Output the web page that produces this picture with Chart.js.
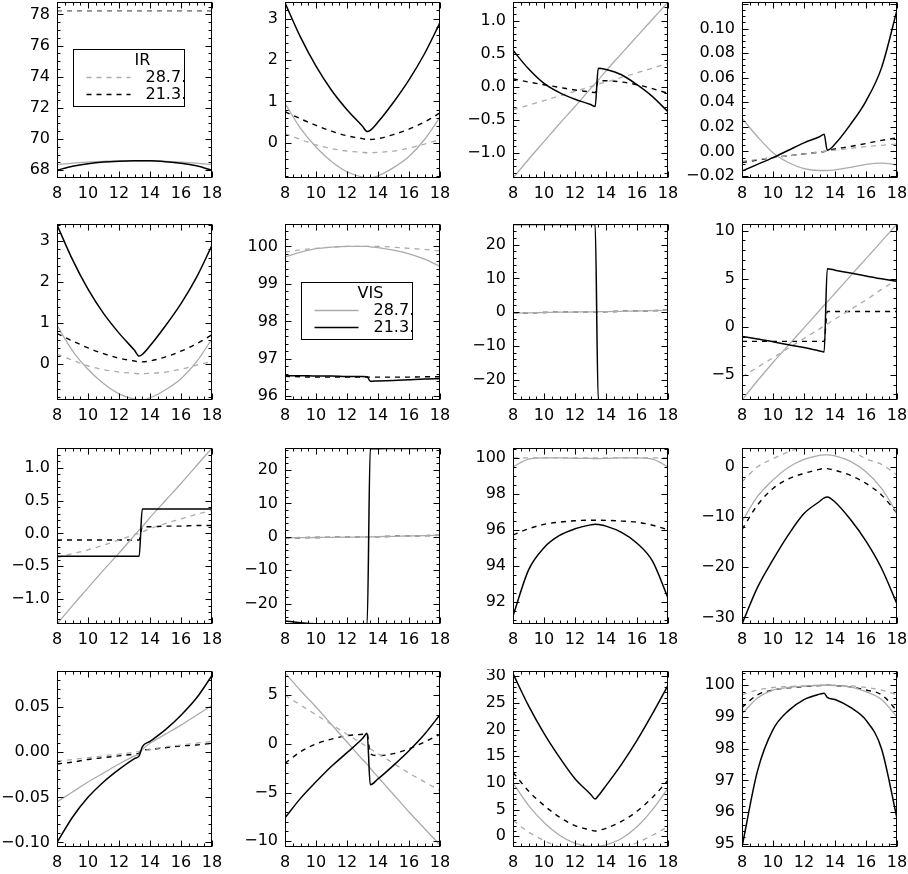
<!DOCTYPE html>
<html>
<head>
<meta charset="utf-8">
<script src="https://cdn.jsdelivr.net/npm/chart.js@4/dist/chart.umd.min.js"></script>
<style>
  body { margin: 0; background: #fff; width: 908px; height: 874px; overflow: hidden; position: relative; }
  canvas { position: absolute; }
</style>
</head>
<body>
<script>
// hour of day, shared by every panel
const hours = [8, 9, 10, 11, 12, 13, 13.3, 13.5, 14, 15, 16, 17, 18];
const xTicks = [8, 10, 12, 14, 16, 18];

// vis = solid, ir = dashed, 287 = 28.7. (gray), 213 = 21.3. (black)
// row 1
const p1Vis287 = [68.35, 68.45, 68.52, 68.57, 68.6, 68.6, 68.6, 68.6, 68.6, 68.57, 68.52, 68.45, 68.35];
const p1Vis213 = [68.0, 68.25, 68.42, 68.53, 68.58, 68.6, 68.6, 68.6, 68.6, 68.55, 68.45, 68.28, 68.0];
const p1Ir287 = [78.2, 78.2, 78.2, 78.2, 78.2, 78.2, 78.2, 78.2, 78.2, 78.2, 78.2, 78.2, 78.2];
const p1Ir213 = [78.21, 78.21, 78.21, 78.21, 78.21, 78.21, 78.21, 78.21, 78.21, 78.21, 78.21, 78.21, 78.21];
const p1Ticks = [68, 70, 72, 74, 76, 78];

const p2Vis287 = [0.95, 0.35, -0.1, -0.45, -0.7, -0.83, -0.85, -0.85, -0.8, -0.6, -0.33, 0.08, 0.62];
const p2Vis213 = [3.38, 2.55, 1.85, 1.27, 0.8, 0.4, 0.27, 0.3, 0.5, 0.98, 1.52, 2.15, 2.9];
const p2Ir287 = [0.22, 0.08, -0.05, -0.14, -0.2, -0.23, -0.24, -0.24, -0.23, -0.2, -0.13, -0.03, 0.08];
const p2Ir213 = [0.75, 0.58, 0.42, 0.28, 0.17, 0.1, 0.08, 0.08, 0.1, 0.2, 0.33, 0.5, 0.72];
const p2Ticks = [0, 1, 2, 3];

const p3Vis287 = [-1.38, -1.1, -0.83, -0.56, -0.3, -0.03, 0.05, 0.1, 0.24, 0.5, 0.76, 1.02, 1.28];
const p3Vis213 = [0.55, 0.27, 0.05, -0.09, -0.19, -0.27, -0.3, 0.28, 0.26, 0.18, 0.03, -0.15, -0.38];
const p3Ir287 = [-0.35, -0.28, -0.21, -0.14, -0.07, 0.0, 0.02, 0.04, 0.07, 0.14, 0.21, 0.28, 0.35];
const p3Ir213 = [0.12, 0.07, 0.03, -0.01, -0.05, -0.08, -0.09, 0.09, 0.09, 0.07, 0.03, -0.03, -0.1];
const p3Ticks = [-1.0, -0.5, 0.0, 0.5, 1.0];

const p4Vis287 = [0.027, 0.012, -0.001, -0.009, -0.014, -0.0155, -0.0155, -0.0155, -0.015, -0.013, -0.0105, -0.0095, -0.011];
const p4Vis213 = [-0.016, -0.0105, -0.005, 0.001, 0.007, 0.012, 0.014, 0.001, 0.006, 0.022, 0.041, 0.068, 0.115];
const p4Ir287 = [-0.008, -0.0065, -0.005, -0.0035, -0.002, -0.0005, 0.0, 0.0005, 0.001, 0.0025, 0.004, 0.005, 0.006];
const p4Ir213 = [-0.009, -0.007, -0.005, -0.0035, -0.002, -0.0005, 0.0, 0.0005, 0.002, 0.004, 0.0065, 0.009, 0.011];
const p4Ticks = [-0.02, 0.0, 0.02, 0.04, 0.06, 0.08, 0.10];

// row 2
const p5Vis287 = [0.95, 0.33, -0.12, -0.47, -0.72, -0.85, -0.87, -0.87, -0.82, -0.62, -0.35, 0.06, 0.62];
const p5Vis213 = [3.4, 2.55, 1.83, 1.24, 0.76, 0.34, 0.2, 0.24, 0.45, 0.94, 1.48, 2.12, 2.9];
const p5Ir287 = [0.25, 0.1, -0.04, -0.13, -0.19, -0.22, -0.23, -0.23, -0.22, -0.19, -0.12, -0.02, 0.07];
const p5Ir213 = [0.75, 0.57, 0.4, 0.26, 0.15, 0.08, 0.06, 0.06, 0.08, 0.18, 0.32, 0.5, 0.72];
const p5Ticks = [0, 1, 2, 3];

const p6Vis287 = [99.72, 99.85, 99.94, 99.98, 100.0, 100.0, 100.0, 99.99, 99.97, 99.9, 99.8, 99.66, 99.47];
const p6Vis213 = [96.55, 96.55, 96.54, 96.54, 96.53, 96.53, 96.52, 96.4, 96.41, 96.42, 96.44, 96.46, 96.47];
const p6Ir287 = [99.85, 99.91, 99.95, 99.98, 100.0, 100.0, 100.0, 100.0, 100.0, 99.98, 99.95, 99.92, 99.88];
const p6Ir213 = [96.53, 96.52, 96.51, 96.51, 96.51, 96.51, 96.51, 96.51, 96.51, 96.51, 96.51, 96.52, 96.52];
const p6Ticks = [96, 97, 98, 99, 100];

const p7Vis287 = [-0.3, -0.2, -0.1, 0.0, 0.05, 0.1, 0.12, 0.13, 0.15, 0.25, 0.35, 0.45, 0.6];
const p7Vis213 = [25.95, 25.95, 25.95, 25.95, 25.95, 25.95, 25.95, -25.95, -25.95, -25.95, -25.95, -25.95, -25.95];
const p7Ir287 = [-0.25, -0.17, -0.08, 0.0, 0.05, 0.1, 0.11, 0.12, 0.14, 0.23, 0.32, 0.42, 0.55];
const p7Ir213 = [-0.3, -0.2, -0.1, 0.0, 0.05, 0.1, 0.12, 0.13, 0.15, 0.25, 0.35, 0.45, 0.6];
const p7Ticks = [-20, -10, 0, 10, 20];

const p8Vis287 = [-7.6, -5.6, -3.7, -1.9, -0.1, 1.7, 2.25, 2.6, 3.5, 5.3, 7.1, 8.9, 10.7];
const p8Vis213 = [-1.0, -1.25, -1.55, -1.85, -2.15, -2.5, -2.6, 6.05, 5.9, 5.6, 5.3, 5.0, 4.75];
const p8Ir287 = [-5.2, -4.2, -3.2, -2.2, -1.2, -0.2, 0.1, 0.3, 0.8, 1.8, 2.8, 3.9, 4.9];
const p8Ir213 = [-1.5, -1.5, -1.5, -1.5, -1.5, -1.5, -1.5, 1.6, 1.6, 1.6, 1.6, 1.6, 1.6];
const p8Ticks = [-5, 0, 5, 10];

// row 3
const p9Vis287 = [-1.38, -1.1, -0.83, -0.56, -0.3, -0.03, 0.05, 0.1, 0.24, 0.5, 0.76, 1.03, 1.3];
const p9Vis213 = [-0.35, -0.35, -0.35, -0.35, -0.35, -0.35, -0.35, 0.37, 0.37, 0.37, 0.37, 0.37, 0.37];
const p9Ir287 = [-0.37, -0.31, -0.25, -0.18, -0.1, -0.02, 0.0, 0.02, 0.07, 0.15, 0.22, 0.29, 0.35];
const p9Ir213 = [-0.1, -0.1, -0.1, -0.1, -0.1, -0.1, -0.1, 0.1, 0.1, 0.11, 0.11, 0.12, 0.12];
const p9Ticks = [-1.0, -0.5, 0.0, 0.5, 1.0];

const p10Vis287 = [-0.3, -0.25, -0.2, -0.15, -0.1, -0.05, 0.0, 0.0, 0.05, 0.15, 0.25, 0.35, 0.5];
const p10Vis213 = [-25.2, -25.7, -26.0, -26.05, -26.05, -26.05, -26.05, 26.4, 26.4, 26.45, 26.45, 26.5, 26.5];
const p10Ir287 = [-0.25, -0.2, -0.15, -0.1, -0.07, -0.03, 0.0, 0.0, 0.04, 0.12, 0.2, 0.3, 0.42];
const p10Ir213 = [-0.3, -0.25, -0.2, -0.15, -0.1, -0.05, 0.0, 0.0, 0.05, 0.15, 0.25, 0.35, 0.5];
const p10Ticks = [-20, -10, 0, 10, 20];

const p11Vis287 = [99.5, 99.93, 100.0, 100.0, 99.98, 99.97, 99.96, 99.96, 99.97, 100.0, 100.0, 99.93, 99.5];
const p11Vis213 = [91.2, 93.75, 95.0, 95.68, 96.05, 96.27, 96.31, 96.29, 96.2, 95.85, 95.25, 94.25, 92.2];
const p11Ir287 = [100.0, 100.0, 100.0, 100.0, 100.0, 100.0, 100.0, 100.0, 100.0, 100.0, 100.0, 100.0, 100.0];
const p11Ir213 = [95.7, 96.05, 96.3, 96.42, 96.5, 96.53, 96.53, 96.53, 96.52, 96.48, 96.42, 96.25, 96.0];
const p11Ticks = [92, 94, 96, 98, 100];

const p12Vis287 = [-10.9, -5.9, -2.6, -0.1, 1.5, 2.3, 2.4, 2.4, 2.2, 1.1, -1.0, -4.3, -9.2];
const p12Vis213 = [-31.3, -24.0, -18.5, -13.5, -9.3, -6.9, -6.2, -6.0, -7.0, -10.5, -14.8, -20.2, -27.3];
const p12Ir287 = [-3.0, 0.0, 1.6, 3.0, 4.0, 4.5, 4.6, 4.6, 4.4, 3.3, 1.6, 0.5, -1.6];
const p12Ir213 = [-12.5, -7.6, -4.3, -2.4, -1.3, -0.5, -0.3, -0.35, -0.7, -1.7, -3.3, -5.6, -9.2];
const p12Ticks = [-30, -20, -10, 0];

// row 4
const p13Vis287 = [-0.055, -0.044, -0.033, -0.023, -0.013, -0.004, -0.002, 0.003, 0.01, 0.02, 0.03, 0.041, 0.052];
const p13Vis213 = [-0.1, -0.072, -0.05, -0.033, -0.019, -0.007, -0.004, 0.006, 0.012, 0.025, 0.041, 0.06, 0.085];
const p13Ir287 = [-0.01, -0.008, -0.006, -0.004, -0.002, 0.0, 0.001, 0.002, 0.003, 0.006, 0.008, 0.01, 0.012];
const p13Ir213 = [-0.013, -0.011, -0.008, -0.006, -0.004, -0.002, -0.001, 0.002, 0.003, 0.005, 0.007, 0.008, 0.01];
const p13Ticks = [-0.10, -0.05, 0.00, 0.05];

const p14Vis287 = [7.3, 5.5, 3.8, 2.0, 0.2, -1.6, -2.1, -2.5, -3.4, -5.2, -7.0, -8.7, -10.4];
const p14Vis213 = [-7.6, -5.6, -3.9, -2.3, -0.9, 0.55, 1.1, -4.2, -3.6, -2.2, -0.7, 1.0, 3.0];
const p14Ir287 = [5.0, 4.0, 3.0, 2.0, 1.0, 0.0, -0.3, -0.5, -1.0, -2.0, -3.0, -3.9, -4.8];
const p14Ir213 = [-2.0, -0.8, 0.0, 0.5, 0.85, 1.0, 1.05, -1.0, -1.2, -1.0, -0.5, 0.2, 1.0];
const p14Ticks = [-10, -5, 0, 5];

const p15Vis287 = [10.0, 5.8, 2.6, 0.2, -1.3, -1.9, -1.95, -1.9, -1.6, -0.4, 1.8, 5.0, 9.0];
const p15Vis213 = [30.5, 24.5, 19.3, 14.8, 10.8, 7.9, 7.0, 7.6, 9.5, 13.5, 18.0, 23.0, 28.3];
const p15Ir287 = [3.0, 0.8, -0.8, -2.0, -2.8, -3.1, -3.1, -3.1, -3.0, -2.3, -1.2, 0.2, 1.8];
const p15Ir213 = [12.0, 8.5, 5.8, 3.6, 2.0, 1.2, 1.0, 1.1, 1.5, 2.8, 4.7, 7.3, 10.5];
const p15Ticks = [0, 5, 10, 15, 20, 25, 30];

const p16Vis287 = [99.1, 99.6, 99.85, 99.93, 99.97, 100.0, 100.0, 100.0, 99.99, 99.95, 99.8, 99.55, 99.0];
const p16Vis213 = [94.9, 97.3, 98.6, 99.2, 99.55, 99.72, 99.75, 99.62, 99.55, 99.3, 98.9, 98.0, 95.8];
const p16Ir287 = [99.7, 99.85, 99.93, 99.96, 99.98, 100.0, 100.0, 100.0, 100.0, 99.98, 99.93, 99.85, 99.7];
const p16Ir213 = [99.3, 99.7, 99.85, 99.92, 99.96, 99.99, 100.0, 100.0, 99.99, 99.95, 99.85, 99.7, 99.2];
const p16Ticks = [95, 96, 97, 98, 99, 100];

// panel list: [vis287, vis213, ir287, ir213, yTicks, yMin, yMax, decimals, legend]
const panels = [
  [p1Vis287, p1Vis213, p1Ir287, p1Ir213, p1Ticks, 67.5, 78.8, 0, 'IR'],
  [p2Vis287, p2Vis213, p2Ir287, p2Ir213, p2Ticks, -0.85, 3.4, 0],
  [p3Vis287, p3Vis213, p3Ir287, p3Ir213, p3Ticks, -1.38, 1.28, 1],
  [p4Vis287, p4Vis213, p4Ir287, p4Ir213, p4Ticks, -0.0216, 0.1216, 2],
  [p5Vis287, p5Vis213, p5Ir287, p5Ir213, p5Ticks, -0.87, 3.42, 0],
  [p6Vis287, p6Vis213, p6Ir287, p6Ir213, p6Ticks, 95.9, 100.6, 0, 'VIS'],
  [p7Vis287, p7Vis213, p7Ir287, p7Ir213, p7Ticks, -26, 26.1, 0],
  [p8Vis287, p8Vis213, p8Ir287, p8Ir213, p8Ticks, -7.6, 10.7, 0],
  [p9Vis287, p9Vis213, p9Ir287, p9Ir213, p9Ticks, -1.38, 1.3, 1],
  [p10Vis287, p10Vis213, p10Ir287, p10Ir213, p10Ticks, -26.1, 26.6, 0],
  [p11Vis287, p11Vis213, p11Ir287, p11Ir213, p11Ticks, 90.75, 100.55, 0],
  [p12Vis287, p12Vis213, p12Ir287, p12Ir213, p12Ticks, -31.3, 3.75, 0],
  [p13Vis287, p13Vis213, p13Ir287, p13Ir213, p13Ticks, -0.105, 0.09, 2],
  [p14Vis287, p14Vis213, p14Ir287, p14Ir213, p14Ticks, -10.6, 7.5, 0],
  [p15Vis287, p15Vis213, p15Ir287, p15Ir213, p15Ticks, -2, 31, 0],
  [p16Vis287, p16Vis213, p16Ir287, p16Ir213, p16Ticks, 94.9, 100.45, 0]
];

const colLeft = [57, 285, 513, 742];
const rowTop = [2, 224, 448, 671];
const plotW = 155, plotH = 176;
const padL = 57, padT = 2, padR = 16, padB = 34;

const GRAY = '#ababab';
const BLACK = '#000';
const FONT = '16px "DejaVu Sans"';

function minorCount(step) {
  const m = Math.round(step / Math.pow(10, Math.floor(Math.log10(step) + 1e-9)));
  return m === 2 ? 4 : 5;
}

function fmt(v, dec) {
  return v.toFixed(dec).replace('-', '\u2212');
}

// IDL style box: ticks inside on all four sides
const idlAxes = {
  id: 'idlAxes',
  afterDatasetsDraw(chart, args, opts) {
    const ctx = chart.ctx;
    const a = chart.chartArea;
    const x = chart.scales.x, y = chart.scales.y;
    ctx.save();
    ctx.strokeStyle = '#000';
    ctx.lineWidth = 1;
    const L = Math.round(a.left) + 0.5, R = Math.round(a.right) - 0.5;
    const T = Math.round(a.top) + 0.5, B = Math.round(a.bottom) - 0.5;
    ctx.strokeRect(L, T, R - L, B - T);

    ctx.beginPath();
    // x ticks
    const xs = xTicks[1] - xTicks[0], xn = minorCount(xs);
    for (let i = 0; i < xTicks.length; i++) {
      const px = Math.round(x.getPixelForValue(xTicks[i])) + 0.5;
      ctx.moveTo(px, B); ctx.lineTo(px, B - 6);
      ctx.moveTo(px, T); ctx.lineTo(px, T + 6);
      if (i < xTicks.length - 1) {
        for (let k = 1; k < xn; k++) {
          const mx = Math.round(x.getPixelForValue(xTicks[i] + xs * k / xn)) + 0.5;
          ctx.moveTo(mx, B); ctx.lineTo(mx, B - 3);
          ctx.moveTo(mx, T); ctx.lineTo(mx, T + 3);
        }
      }
    }
    // y ticks
    const yt = opts.ticks;
    const ys = yt[1] - yt[0], yn = minorCount(ys);
    for (let v = yt[0] - ys; v <= yt[yt.length - 1] + ys + 1e-9; v += ys) {
      const py = Math.round(y.getPixelForValue(v)) + 0.5;
      if (py >= T && py <= B) {
        ctx.moveTo(L, py); ctx.lineTo(L + 6, py);
        ctx.moveTo(R, py); ctx.lineTo(R - 6, py);
      }
      for (let k = 1; k < yn; k++) {
        const my = Math.round(y.getPixelForValue(v + ys * k / yn)) + 0.5;
        if (my > T && my < B) {
          ctx.moveTo(L, my); ctx.lineTo(L + 3, my);
          ctx.moveTo(R, my); ctx.lineTo(R - 3, my);
        }
      }
    }
    ctx.stroke();

    // labels
    ctx.fillStyle = '#000';
    ctx.font = FONT;
    ctx.textBaseline = 'middle';
    ctx.textAlign = 'center';
    xTicks.forEach(v => ctx.fillText(String(v), x.getPixelForValue(v), a.bottom + 16));
    ctx.textAlign = 'right';
    yt.forEach(v => ctx.fillText(fmt(v, opts.dec), a.left - 7, y.getPixelForValue(v)));

    // legend box
    if (opts.key) {
      const bx = Math.round(a.left) + 16.5, by = Math.round(a.top) + (opts.key === 'IR' ? 47 : 58) + 0.5;
      ctx.strokeRect(bx, by, 111, 57);
      ctx.textAlign = 'center';
      ctx.fillText(opts.key, bx + 69, by + 11);
      const ds = chart.data.datasets.filter(d => d.label.startsWith(opts.key));
      ds.forEach((d, i) => {
        const ly = by + 28 + i * 17;
        ctx.beginPath();
        ctx.strokeStyle = d.borderColor;
        ctx.lineWidth = d.borderWidth;
        ctx.setLineDash(d.borderDash || []);
        ctx.moveTo(bx + 13, ly); ctx.lineTo(bx + 57, ly);
        ctx.stroke();
        ctx.setLineDash([]);
        ctx.textAlign = 'left';
        ctx.fillText(d.label.split(' ')[1], bx + 72, ly);
      });
    }
    ctx.restore();
  }
};

function series(vals) {
  return hours.map((h, i) => ({ x: h, y: vals[i] }));
}

panels.forEach((p, n) => {
  const col = n % 4, row = Math.floor(n / 4);
  const cv = document.createElement('canvas');
  cv.width = padL + plotW + padR;
  cv.height = padT + plotH + padB;
  cv.style.left = (colLeft[col] - padL) + 'px';
  cv.style.top = (rowTop[row] - padT) + 'px';
  document.body.appendChild(cv);

  const base = { pointRadius: 0, fill: false, cubicInterpolationMode: 'monotone' };
  new Chart(cv, {
    type: 'line',
    data: {
      datasets: [
        Object.assign({ label: 'IR 28.7.', data: series(p[2]), borderColor: GRAY, borderWidth: 1.3, borderDash: [5, 5], order: 2 }, base),
        Object.assign({ label: 'IR 21.3.', data: series(p[3]), borderColor: BLACK, borderWidth: 1.4, borderDash: [5, 5], order: 3 }, base),
        Object.assign({ label: 'VIS 28.7.', data: series(p[0]), borderColor: GRAY, borderWidth: 1.3, order: 1 }, base),
        Object.assign({ label: 'VIS 21.3.', data: series(p[1]), borderColor: BLACK, borderWidth: 1.5, order: 0 }, base)
      ]
    },
    options: {
      responsive: false,
      animation: false,
      layout: { padding: { left: padL, top: padT, right: padR, bottom: padB } },
      scales: {
        x: { type: 'linear', min: 8, max: 18, display: false },
        y: { type: 'linear', min: p[5], max: p[6], display: false }
      },
      plugins: {
        legend: { display: false },
        tooltip: { enabled: false },
        idlAxes: { ticks: p[4], dec: p[7], key: p[8] }
      }
    },
    plugins: [idlAxes]
  });
});
</script>
</body>
</html>
